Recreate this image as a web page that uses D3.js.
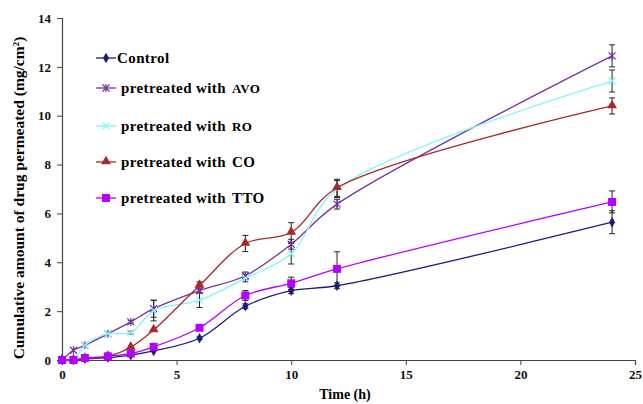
<!DOCTYPE html>
<html>
<head>
<meta charset="utf-8">
<script src="https://cdn.jsdelivr.net/npm/d3@7"></script>
<style>
  body { margin: 0; background: #fff; }
  svg text { font-family: "Liberation Serif", "Times New Roman", serif; font-weight: bold; }
</style>
</head>
<body>
<svg id="chart" width="643" height="404"></svg>
<script>
// Data
const times = [0, 0.5, 1, 2, 3, 4, 6, 8, 10, 12, 24];
const control = [0, 0, 0.05, 0.1, 0.2, 0.37, 0.89, 2.2, 2.84, 3.04, 5.64];
const controlErr = [0, 0, 0, 0, 0, 0, 0.05, 0.1, 0.12, 0.12, 0.47];
const avo = [0, 0.4, 0.6, 1.07, 1.56, 2.1, 2.84, 3.45, 4.74, 6.38, 12.45];
const avoErr = [0, 0, 0, 0, 0.05, 0.35, 0.1, 0.15, 0.2, 0.2, 0.45];
const ro = [0, 0, 0.6, 1.08, 1.12, 2.02, 2.45, 3.35, 4.35, 7.0, 11.42];
const roErr = [0, 0, 0, 0, 0.06, 0.42, 0.3, 0.15, 0.42, 0.35, 0.45];
const co = [0, 0, 0.06, 0.15, 0.52, 1.23, 3.05, 4.77, 5.22, 7.05, 10.4];
const coErr = [0, 0, 0, 0, 0, 0, 0.15, 0.33, 0.4, 0.35, 0.33];
const tto = [0, 0, 0.08, 0.15, 0.27, 0.54, 1.32, 2.64, 3.14, 3.73, 6.47];
const ttoErr = [0, 0, 0, 0, 0, 0, 0, 0.2, 0.25, 0.7, 0.45];

const xTicks = [0, 5, 10, 15, 20, 25];
const yTicks = [0, 2, 4, 6, 8, 10, 12, 14];

const series = [
  { name: "Control", values: control, err: controlErr, color: "#1c1c7c", marker: "diamond" },
  { name: "pretreated with", suffix: "AVO", values: avo, err: avoErr, color: "#7235a2", marker: "star" },
  { name: "pretreated with", suffix: "RO", values: ro, err: roErr, color: "#88f4f4", marker: "cross" },
  { name: "pretreated with", suffix: "CO", values: co, err: coErr, color: "#a8282c", marker: "triangle" },
  { name: "pretreated with", suffix: "TTO", values: tto, err: ttoErr, color: "#b400ff", marker: "square" }
];

// Layout
const svg = d3.select("#chart");
const plotLeft = 62, plotRight = 635, plotTop = 18, plotBottom = 360;

const x = d3.scaleLinear().domain([0, 25]).range([plotLeft, plotRight]);
const y = d3.scaleLinear().domain([0, 14]).range([plotBottom, plotTop]);

// Axes
const xAxis = svg.append("g")
  .attr("transform", "translate(0," + plotBottom + ")")
  .call(d3.axisBottom(x).tickValues(xTicks).tickSize(5).tickPadding(5));
const yAxis = svg.append("g")
  .attr("transform", "translate(" + plotLeft + ",0)")
  .call(d3.axisLeft(y).tickValues(yTicks).tickSize(5).tickPadding(6));

[xAxis, yAxis].forEach(function(g) {
  g.select(".domain").attr("stroke", "#444").attr("stroke-width", 1.2);
  g.selectAll(".tick line").attr("stroke", "#444");
  g.selectAll(".tick text").attr("fill", "#111").style("font-size", "13px")
    .style("font-family", "'Liberation Serif', serif").style("font-weight", "bold");
});

// Axis labels
svg.append("text")
  .attr("x", 345).attr("y", 399)
  .attr("text-anchor", "middle")
  .style("font-size", "14px")
  .text("Time (h)");

svg.append("text")
  .attr("transform", "translate(24,198) rotate(-90)")
  .attr("text-anchor", "middle")
  .style("font-size", "15.5px")
  .html("Cumulative amount of drug permeated (mg/cm<tspan dy='-5' font-size='9'>2</tspan><tspan dy='5'>)</tspan>");

// Marker drawing
function drawMarker(g, type, color, cx, cy) {
  if (type === "diamond") {
    g.append("path").attr("d", d3.symbol(d3.symbolDiamond, 32)())
      .attr("transform", "translate(" + cx + "," + cy + ")").attr("fill", color);
  } else if (type === "square") {
    g.append("rect").attr("x", cx - 4).attr("y", cy - 4)
      .attr("width", 8).attr("height", 8).attr("fill", color);
  } else if (type === "triangle") {
    g.append("path").attr("d", d3.symbol(d3.symbolTriangle, 42)())
      .attr("transform", "translate(" + cx + "," + (cy - 0.5) + ")").attr("fill", color);
  } else if (type === "cross") {
    g.append("path").attr("d", "M-3.5,-3.5L3.5,3.5M-3.5,3.5L3.5,-3.5")
      .attr("transform", "translate(" + cx + "," + cy + ")")
      .attr("stroke", color).attr("stroke-width", 1.2).attr("fill", "none");
  } else if (type === "star") {
    g.append("path").attr("d", "M-3.5,-3.5L3.5,3.5M-3.5,3.5L3.5,-3.5M0,-4L0,4")
      .attr("transform", "translate(" + cx + "," + cy + ")")
      .attr("stroke", color).attr("stroke-width", 1.2).attr("fill", "none");
  }
}

const line = d3.line()
  .x(d => x(d[0]))
  .y(d => y(d[1]))
  .curve(d3.curveCatmullRom.alpha(0.5));

// Error bars first (drawn under lines)
const errG = svg.append("g");
series.forEach(function(s) {
  s.values.forEach(function(v, i) {
    const e = s.err[i];
    if (!e) return;
    const cx = x(times[i]);
    errG.append("line").attr("x1", cx).attr("x2", cx)
      .attr("y1", y(v - e)).attr("y2", y(v + e))
      .attr("stroke", "#222").attr("stroke-width", 1);
    [v - e, v + e].forEach(function(w) {
      errG.append("line").attr("x1", cx - 3).attr("x2", cx + 3)
        .attr("y1", y(w)).attr("y2", y(w))
        .attr("stroke", "#222").attr("stroke-width", 1);
    });
  });
});

// Lines and markers
series.forEach(function(s) {
  const pts = times.map((t, i) => [t, s.values[i]]);
  svg.append("path")
    .attr("d", line(pts))
    .attr("fill", "none")
    .attr("stroke", s.color)
    .attr("stroke-width", 1.3);
  const g = svg.append("g");
  pts.forEach(p => drawMarker(g, s.marker, s.color, x(p[0]), y(p[1])));
});

// Legend
const legendY = [58, 88, 126, 162, 198];
series.forEach(function(s, i) {
  const ly = legendY[i];
  const g = svg.append("g");
  g.append("line").attr("x1", 96).attr("x2", 116).attr("y1", ly).attr("y2", ly)
    .attr("stroke", s.color).attr("stroke-width", 1.3);
  drawMarker(g, s.marker, s.color, 106, ly);
  const t = g.append("text")
    .attr("x", i === 0 ? 117 : 121)
    .attr("y", ly + 5)
    .style("font-size", "15px")
    .style("letter-spacing", "0.4px");
  t.append("tspan").text(s.name);
  if (s.suffix) {
    t.append("tspan").attr("dx", 6).style("font-size", i === 1 || i === 2 ? "13px" : "15px").text(s.suffix);
  }
});
</script>
</body>
</html>
